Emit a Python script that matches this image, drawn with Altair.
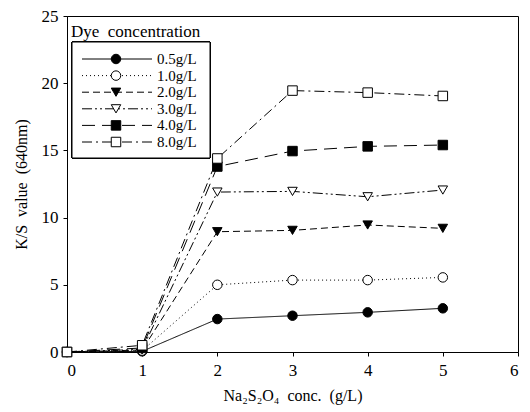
import altair as alt
import pandas as pd

# ---- data ----
x_vals = [0, 1, 2, 3, 4, 5]
series_labels = ["0.5g/L", "1.0g/L", "2.0g/L", "3.0g/L", "4.0g/L", "8.0g/L"]
s05 = [0.0, 0.05, 2.45, 2.70, 2.95, 3.25]
s10 = [0.0, 0.10, 5.00, 5.35, 5.35, 5.55]
s20 = [0.0, 0.15, 8.95, 9.05, 9.45, 9.20]
s30 = [0.0, 0.20, 11.90, 11.95, 11.55, 12.05]
s40 = [0.0, 0.30, 13.80, 14.95, 15.30, 15.40]
s80 = [0.0, 0.50, 14.40, 19.45, 19.30, 19.05]
all_series = [s05, s10, s20, s30, s40, s80]

rows = []
for lab, vals in zip(series_labels, all_series):
    for xv, yv in zip(x_vals, vals):
        rows.append({"x": xv, "y": yv, "series": lab})
df = pd.DataFrame(rows)
leg_df = pd.DataFrame({"series": series_labels, "i": list(range(len(series_labels)))})

# ---- styles ----
FONT = "Liberation Serif"
dash_range = [[1, 0], [1, 3], [7, 4], [10, 3, 2, 3, 2, 3], [13, 7], [10, 4, 2, 4]]
shape_range = ["circle", "circle", "triangle-down", "triangle-down", "square", "square"]
fill_range = ["black", "white", "black", "white", "black", "white"]

dash_scale = alt.Scale(domain=series_labels, range=dash_range)
shape_scale = alt.Scale(domain=series_labels, range=shape_range)
fill_scale = alt.Scale(domain=series_labels, range=fill_range)

SP = "\u2002"
xenc = alt.X("x:Q", scale=alt.Scale(domain=[0, 6], nice=False),
             axis=alt.Axis(values=[0, 1, 2, 3, 4, 5, 6], format="d",
                           title=f"Na₂S₂O₄{SP}conc.{SP}(g/L)",
                           titlePadding=9, labelPadding=6, tickSize=4))
yenc = alt.Y("y:Q", scale=alt.Scale(domain=[0, 25], nice=False),
             axis=alt.Axis(values=[0, 5, 10, 15, 20, 25], format="d",
                           title=f"K/S{SP}value{SP}(640nm)",
                           titlePadding=12, labelPadding=5, tickSize=4))

lines = alt.Chart(df).mark_line(color="black", strokeWidth=1).encode(
    x=xenc, y=yenc,
    strokeDash=alt.StrokeDash("series:N", scale=dash_scale, legend=None),
    detail="series:N",
)
points = alt.Chart(df).mark_point(size=90, stroke="black", strokeWidth=1, opacity=1, filled=False).encode(
    x="x:Q", y="y:Q",
    shape=alt.Shape("series:N", scale=shape_scale, legend=None),
    fill=alt.Fill("series:N", scale=fill_scale, legend=None),
)
main = alt.layer(lines, points)

# ---- legend drawn inside the plot ----
box = alt.Chart(leg_df).mark_rect(fill="white", stroke="black", strokeWidth=1).encode(
    x=alt.value(5), x2=alt.value(143), y=alt.value(26), y2=alt.value(142)
)
title_txt = alt.Chart(leg_df).transform_filter("datum.i == 0").mark_text(
    text=f"Dye{SP}concentration", font=FONT, fontSize=17, align="left", baseline="alphabetic", color="black"
).encode(x=alt.value(4), y=alt.value(21))

ly = alt.Y("i:Q", scale=alt.Scale(domain=[0, 5], range=[43, 126]), axis=None)
leg_rules = alt.Chart(leg_df).mark_rule(color="black", strokeWidth=1).encode(
    x=alt.value(15), x2=alt.value(85), y=ly,
    strokeDash=alt.StrokeDash("series:N", scale=dash_scale, legend=None),
)
leg_pts = alt.Chart(leg_df).mark_point(size=90, stroke="black", strokeWidth=1, opacity=1).encode(
    x=alt.value(49), y="i:Q",
    shape=alt.Shape("series:N", scale=shape_scale, legend=None),
    fill=alt.Fill("series:N", scale=fill_scale, legend=None),
)
leg_txt = alt.Chart(leg_df).mark_text(font=FONT, fontSize=15, align="left", baseline="middle", color="black").encode(
    x=alt.value(90), y="i:Q", text="series:N"
)
legend = alt.layer(leg_rules, leg_pts, leg_txt)

chart = alt.layer(main, box, title_txt, legend).resolve_scale(y="independent").properties(
    width=451, height=336,
    autosize=alt.AutoSizeParams(type="none"),
    padding={"left": 67, "top": 16, "right": 12, "bottom": 60},
    background="white",
).configure_view(stroke="black", strokeWidth=1).configure_axis(
    grid=False, domainColor="black", tickColor="black", domainWidth=1,
    labelFont=FONT, labelFontSize=17, labelColor="black",
    titleFont=FONT, titleFontSize=16, titleFontWeight="normal", titleColor="black",
)

chart.save("out.html", embed_options={"renderer": "svg", "actions": False})
